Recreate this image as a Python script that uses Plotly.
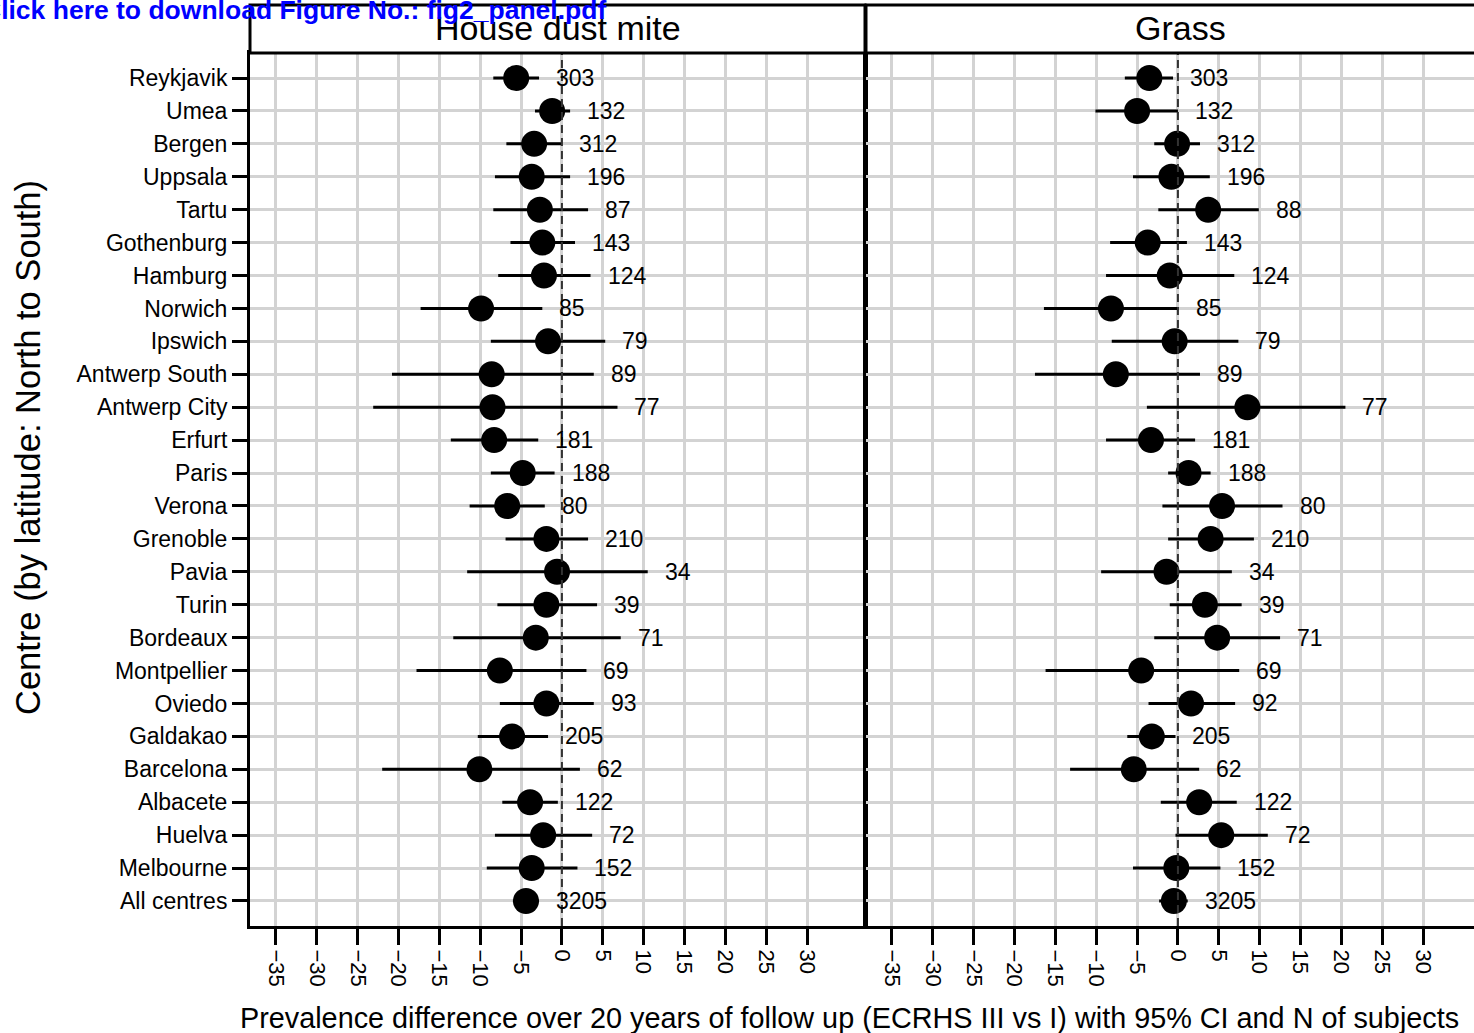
import plotly.graph_objects as go

# Centres ordered by latitude, north to south, plus the pooled estimate
centres = ["Reykjavik", "Umea", "Bergen", "Uppsala", "Tartu", "Gothenburg", "Hamburg",
           "Norwich", "Ipswich", "Antwerp South", "Antwerp City", "Erfurt", "Paris",
           "Verona", "Grenoble", "Pavia", "Turin", "Bordeaux", "Montpellier", "Oviedo",
           "Galdakao", "Barcelona", "Albacete", "Huelva", "Melbourne", "All centres"]

# House dust mite: prevalence difference, 95% CI, N
hdm_est = [-5.6, -1.2, -3.4, -3.7, -2.7, -2.4, -2.2, -9.9, -1.7, -8.6, -8.5, -8.3, -4.8,
           -6.7, -1.9, -0.6, -1.9, -3.2, -7.6, -1.9, -6.1, -10.1, -3.9, -2.3, -3.7, -4.4]
hdm_lo = [-8.4, -3.3, -6.8, -8.2, -8.4, -6.3, -7.8, -17.3, -8.7, -20.8, -23.1, -13.6, -8.7,
          -11.3, -6.9, -11.6, -7.9, -13.3, -17.8, -7.6, -10.3, -22.0, -7.3, -8.2, -9.2, -6.0]
hdm_hi = [-2.8, 1.0, 0.0, 1.0, 3.2, 1.6, 3.5, -2.4, 5.3, 3.9, 6.8, -2.9, -0.9,
          -2.1, 3.2, 10.5, 4.3, 7.2, 3.0, 3.9, -1.7, 2.2, -0.5, 3.7, 1.9, -2.8]
hdm_n = [303, 132, 312, 196, 87, 143, 124, 85, 79, 89, 77, 181, 188,
         80, 210, 34, 39, 71, 69, 93, 205, 62, 122, 72, 152, 3205]

# Grass: prevalence difference, 95% CI, N
grass_est = [-3.5, -5.0, -0.1, -0.8, 3.7, -3.7, -1.0, -8.2, -0.4, -7.6, 8.5, -3.3, 1.3,
             5.4, 4.0, -1.4, 3.3, 4.8, -4.5, 1.6, -3.2, -5.4, 2.6, 5.3, -0.2, -0.5]
grass_lo = [-6.5, -10.1, -2.9, -5.5, -2.4, -8.3, -8.8, -16.4, -8.1, -17.5, -3.8, -8.8, -1.2,
            -1.9, -1.2, -9.4, -1.0, -2.9, -16.2, -3.6, -6.2, -13.2, -2.1, -0.3, -5.5, -2.3]
grass_hi = [-0.6, 0.0, 2.7, 3.9, 9.9, 1.1, 6.9, 0.1, 7.4, 2.7, 20.5, 2.1, 4.0,
            12.8, 9.3, 6.6, 7.8, 12.5, 7.5, 7.0, -0.3, 2.6, 7.2, 11.0, 5.2, 1.2]
grass_n = [303, 132, 312, 196, 88, 143, 124, 85, 79, 89, 77, 181, 188,
           80, 210, 34, 39, 71, 69, 92, 205, 62, 122, 72, 152, 3205]

x_ticks = list(range(-35, 35, 5))
panels = ["House dust mite", "Grass"]

W, H = 1474, 1033
FONT = "Liberation Sans, Arial, sans-serif"


def px(x):
    return x / W


def py(y):
    return 1 - y / H


n = len(centres)
ypos = [n - i for i in range(n)]

fig = go.Figure()

series = [(hdm_est, hdm_lo, hdm_hi, hdm_n), (grass_est, grass_lo, grass_hi, grass_n)]
for k, (est, lo, hi, nn) in enumerate(series):
    xa = "x" if k == 0 else "x2"
    ya = "y" if k == 0 else "y2"
    fig.add_trace(go.Scatter(
        x=est, y=ypos, mode="markers", xaxis=xa, yaxis=ya,
        marker=dict(size=26, color="black"),
        error_x=dict(type="data", symmetric=False,
                     array=[h - e for h, e in zip(hi, est)],
                     arrayminus=[e - l for e, l in zip(est, lo)],
                     color="black", thickness=3, width=0),
        showlegend=False, hoverinfo="skip"))
    for h, yv, lab in zip(hi, ypos, nn):
        fig.add_annotation(x=h, y=yv, xref=xa, yref=ya, text=str(lab),
                           showarrow=False, xanchor="left", yanchor="middle",
                           xshift=15, font=dict(family=FONT, size=23, color="black"))
    # dashed reference line at zero difference
    fig.add_shape(type="line", x0=0, x1=0, y0=0.24, y1=n + 0.76, xref=xa, yref=ya,
                  line=dict(color="#333333", width=2, dash="8px,5px"), layer="above")

y_dom = [py(926), py(53)]
left_dom = [px(250), px(865)]
right_dom = [px(866), 1.0]
pxu = 8.17  # pixels per unit
left_range = [-38.18, -38.18 + 615 / pxu]
right_range = [-38.18, -38.18 + 608 / pxu]

common_x = dict(tickvals=x_ticks, ticktext=[str(v) if v >= 0 else "\u2212" + str(-v) for v in x_ticks],
                tickangle=90, ticks="outside", ticklen=16, tickwidth=3, tickcolor="black",
                showgrid=True, gridcolor="#d3d3d3", gridwidth=3, zeroline=False,
                showline=True, linecolor="black", linewidth=3, mirror=True,
                tickfont=dict(family=FONT, size=22, color="black"))
common_y = dict(range=[0.24, n + 0.76], tickvals=ypos, showgrid=True, gridcolor="#d3d3d3",
                gridwidth=3, zeroline=False, showline=True, linecolor="black", linewidth=3,
                domain=y_dom)

fig.update_layout(
    width=W, height=H, margin=dict(l=0, r=0, t=0, b=0),
    paper_bgcolor="white", plot_bgcolor="white", hovermode=False,
    xaxis=dict(**common_x, anchor="y", domain=left_dom, range=left_range),
    xaxis2=dict(**common_x, anchor="y2", domain=right_dom, range=right_range),
    yaxis=dict(**common_y, anchor="x", ticktext=centres, ticks="outside", ticklen=15,
               tickwidth=3, tickcolor="black", mirror=True,
               tickfont=dict(family=FONT, size=23, color="black")),
    yaxis2=dict(**common_y, anchor="x2", showticklabels=False, ticks="", mirror=False),
)

# facet strips
strip_spans = [(250, 865), (866, 1490)]
strip_centres = [557.5, 1180]
for (a, b), c, title in zip(strip_spans, strip_centres, panels):
    fig.add_shape(type="rect", xref="paper", yref="paper", x0=px(a), x1=px(b),
                  y0=py(53), y1=py(5), line=dict(color="black", width=3), fillcolor="white",
                  layer="above")
    fig.add_annotation(x=px(c), y=py(28), xref="paper", yref="paper", text=title,
                       showarrow=False, xanchor="center", yanchor="middle",
                       font=dict(family=FONT, size=34, color="black"))

# axis titles
fig.add_annotation(x=px(28), y=py(448), xref="paper", yref="paper",
                   text="Centre (by latitude: North to South)", textangle=-90,
                   showarrow=False, xanchor="center", yanchor="middle",
                   font=dict(family=FONT, size=34.5, color="black"))
fig.add_annotation(x=px(849), y=py(1018), xref="paper", yref="paper",
                   text="Prevalence difference over 20 years of follow up (ECRHS III vs I) with 95% CI and N of subjects",
                   showarrow=False, xanchor="center", yanchor="middle",
                   font=dict(family=FONT, size=28.8, color="black"))

# download link banner
fig.add_annotation(x=px(-20), y=py(10), xref="paper", yref="paper",
                   text="<b>Click here to download Figure No.: fig2_panel.pdf</b>",
                   showarrow=False, xanchor="left", yanchor="middle",
                   font=dict(family=FONT, size=26.5, color="#0000ff"))

fig.write_html("out.html")
